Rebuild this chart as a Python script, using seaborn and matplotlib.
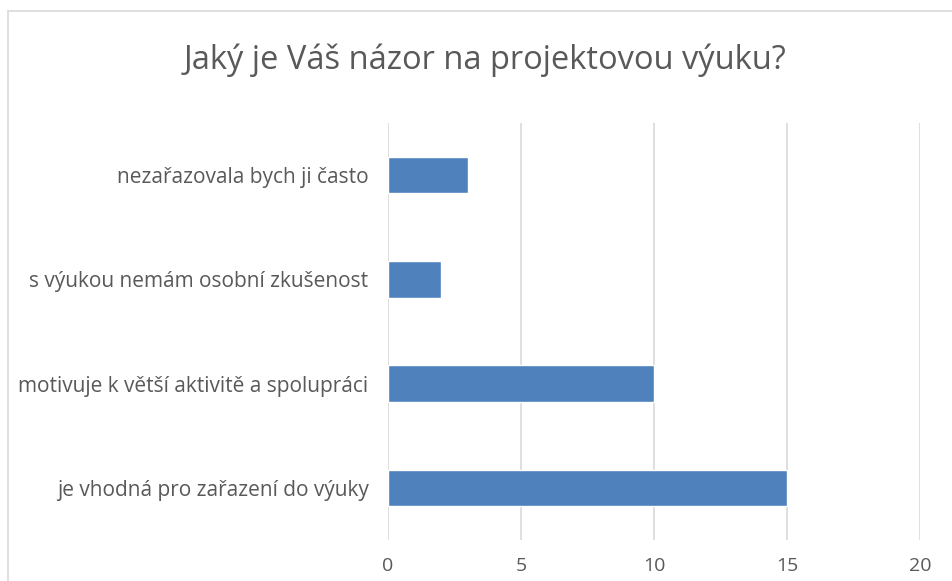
import matplotlib
matplotlib.use("Agg")
import matplotlib.pyplot as plt
from matplotlib.lines import Line2D
import seaborn as sns
import pandas as pd

# Data (top to bottom)
categories = [
    "nezařazovala bych ji často",
    "s výukou nemám osobní zkušenost",
    "motivuje k větší aktivitě a spolupráci",
    "je vhodná pro zařazení do výuky",
]
counts = [3, 2, 10, 15]
x_ticks = [0, 5, 10, 15, 20]

title = "Jaký je Váš názor na projektovou výuku?"
bar_color = "#4F81BD"
text_color = "#595959"
grid_color = "#D9D9D9"

sns.set_theme(style="white")
plt.rcParams["font.family"] = ["Open Sans", "DejaVu Sans"]

df = pd.DataFrame({"odpoved": categories, "pocet": counts})

fig = plt.figure(figsize=(9.53, 5.81), dpi=100)
ax = fig.add_axes([388 / 953, 1 - 540 / 581, (920 - 388) / 953, (540 - 123) / 581])

sns.barplot(data=df, x="pocet", y="odpoved", color=bar_color, width=0.35,
            saturation=1, ax=ax, zorder=3)

ax.set_xlim(0, 20)
ax.set_xticks(x_ticks)
ax.set_xticklabels([str(t) for t in x_ticks], fontsize=14, color=text_color)
ax.tick_params(axis="x", length=0, pad=12)
ax.tick_params(axis="y", length=0, pad=14, labelsize=15, labelcolor=text_color)
ax.set_xlabel("")
ax.set_ylabel("")
for s in ax.spines.values():
    s.set_visible(False)
ax.grid(axis="x", color=grid_color, linewidth=1.2, zorder=0)
ax.grid(axis="y", visible=False)

fig.text(485 / 953, 1 - 60 / 581, title, ha="center", va="center",
         fontsize=23.5, color=text_color)

# chart frame (cropped at right and bottom)
fig.add_artist(Line2D([8 / 953, 1], [1 - 11 / 581] * 2, color=grid_color,
                      linewidth=1.2, transform=fig.transFigure))
fig.add_artist(Line2D([8 / 953] * 2, [0, 1 - 11 / 581], color=grid_color,
                      linewidth=1.2, transform=fig.transFigure))

fig.savefig("out.png", dpi=100)
